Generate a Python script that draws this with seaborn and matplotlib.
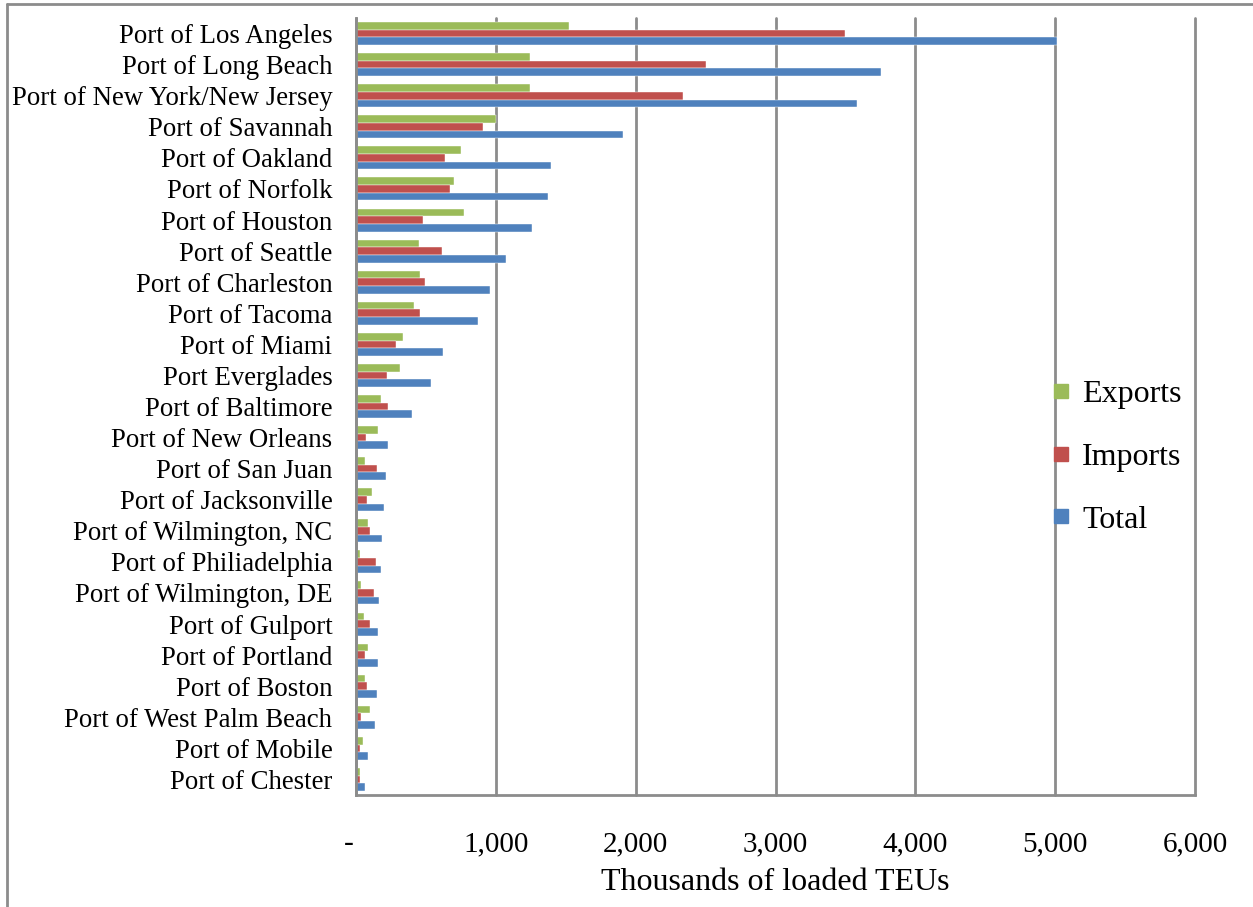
import numpy as np
import pandas as pd
import matplotlib
matplotlib.use("Agg")
import matplotlib.pyplot as plt
import seaborn as sns
from matplotlib.lines import Line2D

ports = ["Port of Los Angeles", "Port of Long Beach", "Port of New York/New Jersey",
         "Port of Savannah", "Port of Oakland", "Port of Norfolk", "Port of Houston",
         "Port of Seattle", "Port of Charleston", "Port of Tacoma", "Port of Miami",
         "Port Everglades", "Port of Baltimore", "Port of New Orleans", "Port of San Juan",
         "Port of Jacksonville", "Port of Wilmington, NC", "Port of Philiadelphia",
         "Port of Wilmington, DE", "Port of Gulport", "Port of Portland", "Port of Boston",
         "Port of West Palm Beach", "Port of Mobile", "Port of Chester"]
exports = [1521, 1246, 1241, 1000, 754, 699, 773, 450, 455, 414, 335, 314, 176, 154, 63,
           116, 87, 32, 34, 54, 85, 61, 97, 49, 27]
imports = [3497, 2505, 2338, 909, 639, 675, 482, 618, 493, 455, 285, 219, 226, 73, 152,
           77, 97, 142, 128, 99, 66, 82, 37, 32, 32]
total = [5015, 3753, 3580, 1908, 1392, 1375, 1256, 1070, 955, 869, 625, 536, 403, 228, 216,
         197, 185, 178, 163, 156, 156, 147, 135, 85, 63]
series = ["Exports", "Imports", "Total"]
colors = ["#9BBB59", "#C0504D", "#4F81BD"]
xticks = [0, 1000, 2000, 3000, 4000, 5000, 6000]

df = pd.DataFrame({"Port": ports, "Exports": exports, "Imports": imports, "Total": total})
long_df = df.melt(id_vars="Port", value_vars=series, var_name="Series", value_name="TEU")

sns.set_style("white")
plt.rcParams["font.family"] = ["Liberation Serif", "DejaVu Serif"]
plt.rcParams["text.color"] = "black"
plt.rcParams["xtick.color"] = "black"
plt.rcParams["ytick.color"] = "black"
plt.rcParams["axes.labelcolor"] = "black"

fig = plt.figure(figsize=(12.53, 9.07), dpi=100)
ax = fig.add_axes([356 / 1253, 1 - 795 / 907, (1195 - 356) / 1253, (795 - 18) / 907])

sns.barplot(data=long_df, y="Port", x="TEU", hue="Series", hue_order=series,
            order=ports, palette=colors, saturation=1, orient="h", width=0.74, ax=ax,
            edgecolor="white", linewidth=0.3, legend=False)

ax.set_xlim(0, 6000)
ax.set_ylim(len(ports) - 0.5, -0.5)
ax.set_xticks(xticks)
ax.set_xticklabels(["-  "] + [f"{v:,}" for v in xticks[1:]], fontsize=21)
ax.tick_params(axis="x", length=8, width=1.5, color="#8c8c8c", labelcolor="black", pad=18)
ax.tick_params(axis="y", which="major", length=0, labelsize=19.3, pad=17, labelcolor="black")
ax.set_yticks(np.arange(-0.5, len(ports), 1), minor=True)
ax.tick_params(axis="y", which="minor", length=8, width=2, color="#8c8c8c")
ax.grid(axis="x", color="#8c8c8c", linewidth=2)
for gl in ax.get_xgridlines():
    gl.set_clip_on(False)
ax.set_axisbelow(True)
ax.set_ylabel("")
ax.set_xlabel("Thousands of loaded TEUs", fontsize=23, labelpad=8)
for s in ["top", "right"]:
    ax.spines[s].set_visible(False)
for s in ["left", "bottom"]:
    ax.spines[s].set_color("#8c8c8c")
    ax.spines[s].set_linewidth(2)

handles = [Line2D([], [], marker="s", linestyle="", markersize=9.5, color=c) for c in colors]
ax.legend(handles, series, loc="center left", bbox_to_anchor=(0.795, 0.435),
          frameon=False, fontsize=23, labelspacing=1.05, handlelength=0.6,
          handletextpad=0.35)

# chart border
fig.add_artist(Line2D([7 / 1253, 7 / 1253], [0, 1 - 4 / 907], transform=fig.transFigure,
                      color="#8c8c8c", linewidth=2))
fig.add_artist(Line2D([7 / 1253, 1], [1 - 4 / 907, 1 - 4 / 907], transform=fig.transFigure,
                      color="#8c8c8c", linewidth=2))

fig.savefig("out.png", dpi=100)
